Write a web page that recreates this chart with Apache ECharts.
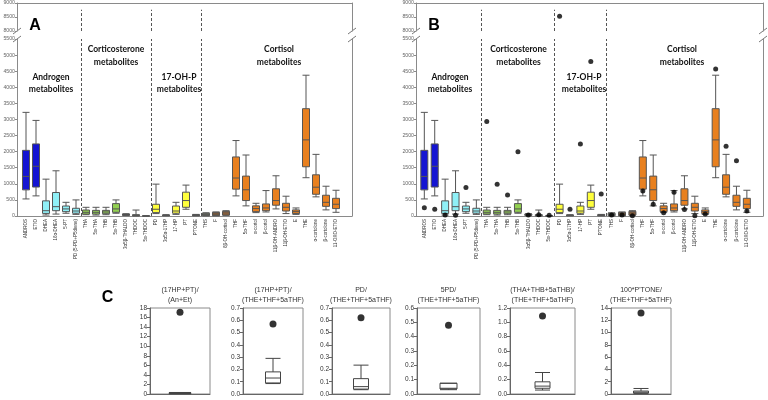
<!DOCTYPE html>
<html><head><meta charset="utf-8">
<script src="https://cdn.jsdelivr.net/npm/echarts@6/dist/echarts.min.js"></script>
<style>html,body{margin:0;padding:0;background:#fff}#c{width:768px;height:400px}</style>
</head><body><div id="c"></div>
<script>
// ---------- data ----------
const categories = ['ANDROS','ETIO','DHEA','16α-DHEA','5-PT','PD (5-PD+P5diene)',
  'THA','5α-THA','THB','5α-THB','3α5β-THALDO','THDOC','5α-THDOC',
  'PD','3α5α-17HP','17-HP','PT',"P'TONE",
  'THS','F','6β-OH-cortisol','THF','5α-THF','α-cortol','β-cortol','11β-OH-ANDRO','11β-OH-ETIO','E','THE','α-cortolone','β-cortolone','11-OXO-ETIO'];
const groupSizes = [6, 7, 5, 14];
const whiskerLow  = [530, 625, 30, 60, 85, 50,  40, 30, 40, 85, 10, 0, 0,  75, 5, 50, 210, 5,  5, 5, 20, 625, 315, 105, 125, 220, 75, 50, 1190, 595, 190, 115];
const q1          = [812, 900, 80, 165, 135, 85,  60, 60, 70, 115, 20, 10, 1,  105, 10, 85, 270, 10,  10, 10, 30, 835, 480, 135, 165, 335, 155, 75, 1530, 675, 300, 230];
const median      = [1230, 1545, 165, 290, 220, 155,  115, 115, 125, 220, 40, 25, 2,  210, 20, 155, 480, 25,  50, 60, 95, 1180, 815, 230, 250, 480, 270, 135, 2365, 895, 425, 365];
const q3          = [2040, 2240, 470, 730, 310, 240,  185, 175, 175, 385, 60, 40, 3,  365, 30, 310, 740, 40,  85, 115, 145, 1835, 1240, 315, 375, 845, 395, 190, 3335, 1280, 645, 550];
const whiskerHigh = [3220, 2970, 1145, 1405, 425, 500,  270, 270, 270, 500, 70, 185, 4,  990, 40, 425, 960, 50,  100, 125, 165, 2345, 1895, 395, 790, 1250, 615, 250, 4375, 1915, 925, 800];
const patientB    = [260, 208, 30, 20, 885, null,  2940, 990, 650, 2000, 30, 40, 20,  8530, 210, 2240, 4800, 680,  30, 30, 10, 780, 365, 104, 740, 200, 10, 62, 4570, 2170, 1720, 156];
const groupTitles = ['Androgen\nmetabolites', 'Corticosterone\nmetabolites', '17-OH-P\nmetabolites', 'Cortisol\nmetabolites'];
const lowerTicks = [0, 5500, 500];   // min, max, step
const upperTicks = [8000, 9000, 500];

const ratioTitles = [['(17HP+PT)/', '(An+Et)'], ['(17HP+PT)/', '(THE+THF+5aTHF)'], ['PD/', '(THE+THF+5aTHF)'],
  ['5PD/', '(THE+THF+5aTHF)'], ['(THA+THB+5aTHB)/', '(THE+THF+5aTHF)'], ["100*P'TONE/", '(THE+THF+5aTHF)']];
const ratioBoxes = [[0.05, 0.1, 0.15, 0.25, 0.32], [0.085, 0.09, 0.13, 0.18, 0.29], [0.035, 0.04, 0.06, 0.125, 0.235],
  [0.03, 0.035, 0.04, 0.075, 0.075], [0.055, 0.08, 0.11, 0.17, 0.30], [0.05, 0.16, 0.3, 0.48, 0.9]];
const ratioOutliers = [17.1, 0.57, 0.62, 0.48, 1.09, 13.2];
const ratioAxisMax = [18, 0.7, 0.7, 0.6, 1.2, 14];
const ratioAxisStep = [2, 0.1, 0.1, 0.1, 0.2, 2];

// ---------- styles ----------
const BLUE = '#1414d2', CYAN = '#8ff0f7', GREEN = '#92d050', BLK = '#1a1a1a', YEL = '#ffff3c', ORA = '#e8801f';
const catColors = [BLUE, BLUE, CYAN, CYAN, CYAN, CYAN,
  GREEN, GREEN, GREEN, GREEN, BLK, '#5b6b3a', BLK,
  YEL, BLK, YEL, YEL, BLK,
  '#8a9a6a', '#8b5a2b', '#a8642a', ORA, ORA, ORA, ORA, ORA, ORA, ORA, ORA, ORA, ORA, ORA];
const FONT = 'Liberation Sans';
const AX = '#8a8a8a';

const chart = echarts.init(document.getElementById('c'), null, {renderer: 'canvas', width: 768, height: 400});

const grids = [], xAxes = [], yAxes = [], series = [], graphics = [];
const breaks = [];
{ let s = 0; for (let i = 0; i < groupSizes.length - 1; i++) { s += groupSizes[i]; breaks.push(s - 0.5); } }

const panels = [
  {left: 17, width: 335, min: -0.9, max: 32.6, patient: false, letter: 'A', lx: 35, titleX: [51, 116, 179, 279]},
  {left: 416, width: 347, min: -0.8, max: 32.55, patient: true, letter: 'B', lx: 434, titleX: [450, 518.5, 584, 682]}
];
const titleY = [83.5, 56, 83.5, 56];

panels.forEach(p => {
  const gU = grids.length; grids.push({left: p.left, top: 3, width: p.width, height: 28});
  const gL = grids.length; grids.push({left: p.left, top: 39, width: p.width, height: 177});
  const xU = xAxes.length;
  xAxes.push({gridIndex: gU, type: 'value', min: p.min, max: p.max, position: 'top',
    axisLine: {show: true, onZero: false, lineStyle: {color: AX}}, axisTick: {show: false}, axisLabel: {show: false}, splitLine: {show: false}});
  const xL = xAxes.length;
  xAxes.push({gridIndex: gL, type: 'value', min: p.min, max: p.max, position: 'bottom',
    axisLine: {show: true, onZero: false, lineStyle: {color: AX}}, axisTick: {show: false}, splitLine: {show: false},
    axisLabel: {show: true, customValues: categories.map((_, i) => i), formatter: v => categories[Math.round(v)] || '',
      rotate: 90, fontSize: 4.5, color: '#333', fontFamily: FONT, margin: 3}});
  const yUL = yAxes.length;
  yAxes.push({gridIndex: gU, type: 'value', min: upperTicks[0], max: upperTicks[1], interval: upperTicks[2], position: 'left',
    axisLine: {show: true, onZero: false, lineStyle: {color: AX}}, axisTick: {show: true, length: 2, lineStyle: {color: AX}},
    axisLabel: {fontSize: 5.2, color: '#666', margin: 2, fontFamily: FONT, formatter: v => String(v)}, splitLine: {show: false}});
  yAxes.push({gridIndex: gU, type: 'value', min: upperTicks[0], max: upperTicks[1], position: 'right',
    axisLine: {show: true, onZero: false, lineStyle: {color: AX}}, axisTick: {show: false}, axisLabel: {show: false}, splitLine: {show: false}});
  const yLL = yAxes.length;
  yAxes.push({gridIndex: gL, type: 'value', min: lowerTicks[0], max: lowerTicks[1], interval: lowerTicks[2], position: 'left',
    axisLine: {show: true, onZero: false, lineStyle: {color: AX}}, axisTick: {show: true, length: 2, lineStyle: {color: AX}},
    axisLabel: {fontSize: 5.2, color: '#666', margin: 2, fontFamily: FONT, formatter: v => String(v)}, splitLine: {show: false}});
  yAxes.push({gridIndex: gL, type: 'value', min: lowerTicks[0], max: lowerTicks[1], position: 'right',
    axisLine: {show: true, onZero: false, lineStyle: {color: AX}}, axisTick: {show: false}, axisLabel: {show: false}, splitLine: {show: false}});

  const dash = {type: [3, 2], color: '#555', width: 1};
  series.push({type: 'boxplot', xAxisIndex: xL, yAxisIndex: yLL, boxWidth: [7, 7], silent: true,
    itemStyle: {borderColor: '#555', borderWidth: 1},
    data: categories.map((c, i) => ({value: [i, whiskerLow[i], q1[i], median[i], q3[i], whiskerHigh[i]], itemStyle: {color: catColors[i]}})),
    markLine: {silent: true, symbol: ['none', 'none'], label: {show: false}, lineStyle: dash, data: breaks.map(b => ({xAxis: b}))}});
  const upperPts = [], lowerPts = [];
  if (p.patient) patientB.forEach((v, i) => { if (v == null) return; (v >= upperTicks[0] ? upperPts : lowerPts).push([i, v]); });
  series.push({type: 'scatter', xAxisIndex: xU, yAxisIndex: yUL, data: upperPts, symbolSize: 5, silent: true,
    itemStyle: {color: '#000'},
    markLine: {silent: true, symbol: ['none', 'none'], label: {show: false}, lineStyle: dash,
      data: breaks.map(b => [{coord: [b, 8000]}, {coord: [b, 8760]}])}});
  if (p.patient) series.push({type: 'scatter', xAxisIndex: xL, yAxisIndex: yLL, data: lowerPts, symbolSize: 5, silent: true, itemStyle: {color: '#000'}});

  // axis break marks
  [p.left, p.left + p.width].forEach(x => {
    [31, 39].forEach(y => graphics.push({type: 'line', shape: {x1: x - 4, y1: y + 3, x2: x + 4, y2: y - 3}, style: {stroke: '#777', lineWidth: 1}}));
  });
  groupTitles.forEach((t, k) => graphics.push({type: 'text', x: p.titleX[k], y: titleY[k],
    style: {text: t, font: 'bold 8.5px Lato', fill: '#111', align: 'center', verticalAlign: 'middle', lineHeight: 12.5}}));
  graphics.push({type: 'text', x: p.lx, y: 26, style: {text: p.letter, font: 'bold 16px "Liberation Sans"', fill: '#000', align: 'center', verticalAlign: 'middle'}});
});

// ---------- panel C ----------
const cLeft = [150, 243, 332, 417, 510, 611];
const cWidth = [60, 60, 58, 63, 65, 60];
const cBoxW = [22, 15, 15, 17, 15, 15];
ratioTitles.forEach((t, k) => {
  const g = grids.length;
  grids.push({left: cLeft[k], top: 308, width: cWidth[k], height: 86, show: true, borderColor: AX, borderWidth: 1});
  const xi = xAxes.length;
  xAxes.push({gridIndex: g, type: 'category', data: [''], axisLine: {show: true, lineStyle: {color: '#666'}}, axisTick: {show: false}, axisLabel: {show: false}});
  const yi = yAxes.length;
  const step = ratioAxisStep[k];
  yAxes.push({gridIndex: g, type: 'value', min: 0, max: ratioAxisMax[k], interval: step,
    axisLine: {show: true, onZero: false, lineStyle: {color: '#666'}}, axisTick: {show: true, length: 3, lineStyle: {color: '#666'}},
    axisLabel: {fontSize: 6.5, color: '#333', fontFamily: FONT, margin: 3, formatter: v => step < 1 ? v.toFixed(1) : String(v)},
    splitLine: {show: false}});
  series.push({type: 'boxplot', xAxisIndex: xi, yAxisIndex: yi, boxWidth: [cBoxW[k], cBoxW[k]], silent: true,
    itemStyle: {color: '#fff', borderColor: '#444', borderWidth: 1}, data: [ratioBoxes[k]]});
  series.push({type: 'scatter', xAxisIndex: xi, yAxisIndex: yi, symbolSize: 7, silent: true, itemStyle: {color: '#000'}, data: [[0, ratioOutliers[k]]]});
  graphics.push({type: 'text', x: cLeft[k] + cWidth[k] / 2, y: 295,
    style: {text: t.join('\n'), font: '7px "Liberation Sans"', fill: '#333', align: 'center', verticalAlign: 'middle', lineHeight: 10}});
});
graphics.push({type: 'text', x: 107.5, y: 298, style: {text: 'C', font: 'bold 16px "Liberation Sans"', fill: '#000', align: 'center', verticalAlign: 'middle'}});

chart.setOption({animation: false, backgroundColor: '#fff', grid: grids, xAxis: xAxes, yAxis: yAxes, series, graphic: graphics});
</script></body></html>
